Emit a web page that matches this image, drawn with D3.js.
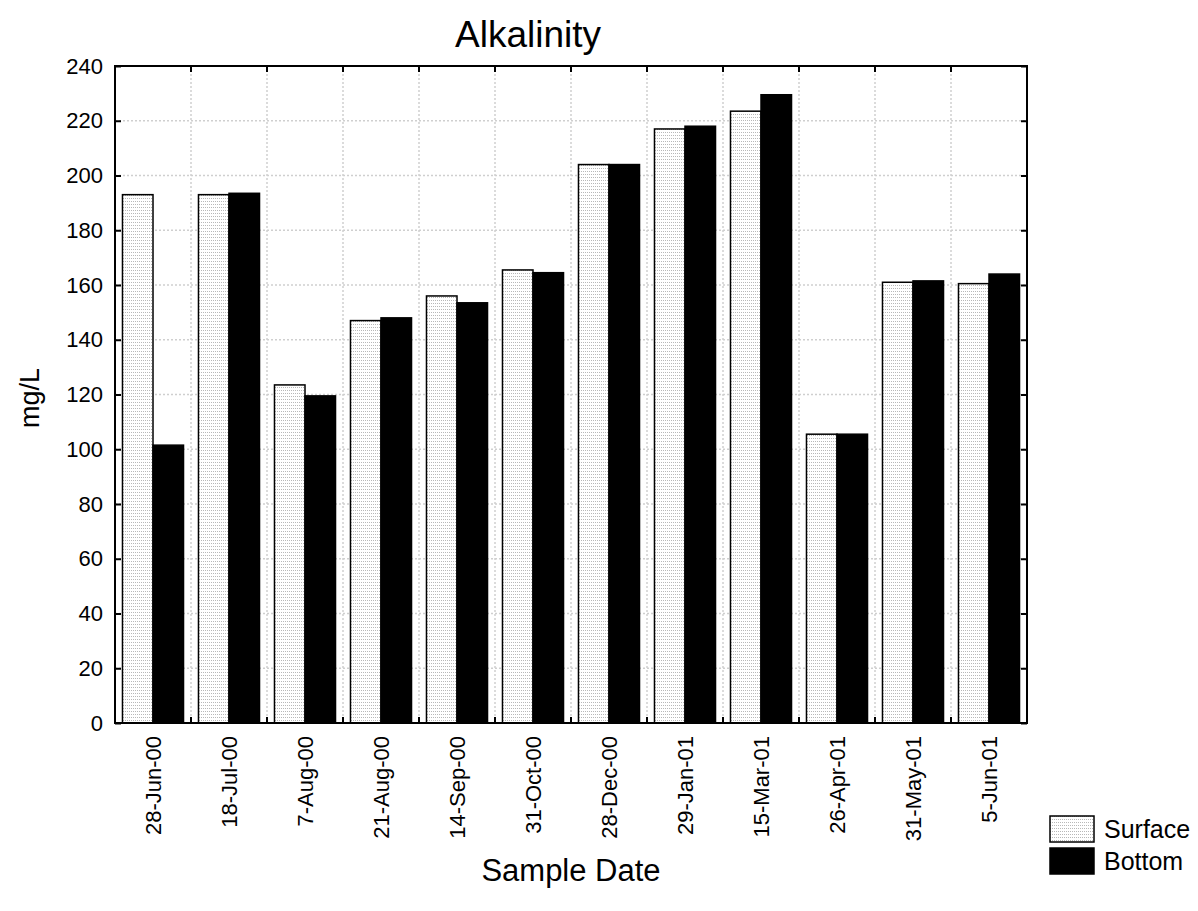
<!DOCTYPE html>
<html>
<head>
<meta charset="utf-8">
<script src="https://cdn.jsdelivr.net/npm/d3@7/dist/d3.min.js"></script>
<style>
  html, body { margin: 0; padding: 0; background: #fff; }
  svg { display: block; font-family: "Liberation Sans", Arial, sans-serif; }
</style>
</head>
<body>
<svg id="chart" width="1198" height="911"></svg>
<script>
// Alkalinity by sample date, surface vs. bottom (mg/L)
const dates = ["28-Jun-00", "18-Jul-00", "7-Aug-00", "21-Aug-00", "14-Sep-00", "31-Oct-00",
               "28-Dec-00", "29-Jan-01", "15-Mar-01", "26-Apr-01", "31-May-01", "5-Jun-01"];
const surface = [193, 193, 123.5, 147, 156, 165.5, 204, 217, 223.5, 105.5, 161, 160.5];
const bottom  = [101.5, 193.5, 119.5, 148, 153.5, 164.5, 204, 218, 229.5, 105.5, 161.5, 164];
const seriesNames = ["Surface", "Bottom"];
const yTicks = [0, 20, 40, 60, 80, 100, 120, 140, 160, 180, 200, 220, 240];

const svg = d3.select("#chart");
const plot = { left: 115, right: 1027, top: 66, bottom: 723 };

// Light dotted fill used for the surface bars
const defs = svg.append("defs");
const pat = defs.append("pattern")
  .attr("id", "dots").attr("patternUnits", "userSpaceOnUse")
  .attr("width", 2).attr("height", 3);
pat.append("rect").attr("width", 2).attr("height", 3).attr("fill", "#fff");
pat.append("rect").attr("width", 1).attr("height", 1).attr("fill", "#b8b8b8");

const x0 = d3.scaleBand().domain(dates).range([plot.left, plot.right]).paddingInner(0).paddingOuter(0);
const x1 = d3.scaleBand().domain(seriesNames).range([0, x0.bandwidth()]).paddingInner(0).paddingOuter(0.245);
const y = d3.scaleLinear().domain([0, 240]).range([plot.bottom, plot.top]);

const fills = { Surface: "url(#dots)", Bottom: "#000" };
const values = { Surface: surface, Bottom: bottom };

// Grid lines
const grid = svg.append("g").attr("stroke", "#cfcfcf").attr("stroke-width", 1.5)
  .attr("stroke-dasharray", "2,2");
grid.selectAll("line.h").data(yTicks.slice(1, -1)).join("line")
  .attr("x1", plot.left).attr("x2", plot.right)
  .attr("y1", d => y(d)).attr("y2", d => y(d));
grid.selectAll("line.v").data(dates.slice(1)).join("line")
  .attr("x1", d => x0(d)).attr("x2", d => x0(d))
  .attr("y1", plot.top).attr("y2", plot.bottom);

// Bars
const groups = svg.append("g").selectAll("g").data(dates).join("g")
  .attr("transform", d => `translate(${x0(d)},0)`);
groups.selectAll("rect").data((d, i) => seriesNames.map(s => ({ s, v: values[s][i] }))).join("rect")
  .attr("x", d => x1(d.s))
  .attr("width", x1.bandwidth())
  .attr("y", d => y(d.v))
  .attr("height", d => y(0) - y(d.v))
  .attr("fill", d => fills[d.s])
  .attr("stroke", "#000")
  .attr("stroke-width", 1.5);

// Frame
svg.append("rect")
  .attr("x", plot.left).attr("y", plot.top)
  .attr("width", plot.right - plot.left).attr("height", plot.bottom - plot.top)
  .attr("fill", "none").attr("stroke", "#000").attr("stroke-width", 2);

// Y axis (left, inward ticks) and mirrored ticks on the right
const yAxisL = d3.axisLeft(y).tickValues(yTicks).tickSize(-6).tickPadding(12).tickFormat(d3.format("d"));
const gL = svg.append("g").attr("transform", `translate(${plot.left},0)`).call(yAxisL);
gL.select(".domain").remove();
gL.selectAll(".tick line").attr("stroke", "#000").attr("stroke-width", 2);
gL.selectAll(".tick text").attr("font-size", 22).attr("fill", "#000")
  .attr("font-family", "Liberation Sans, Arial, sans-serif");

const yAxisR = d3.axisRight(y).tickValues(yTicks).tickSize(-6).tickFormat("");
const gR = svg.append("g").attr("transform", `translate(${plot.right},0)`).call(yAxisR);
gR.select(".domain").remove();
gR.selectAll(".tick line").attr("stroke", "#000").attr("stroke-width", 2);

// X ticks at band boundaries, top and bottom
const bounds = dates.slice(1).map(d => x0(d));
svg.append("g").selectAll("line").data(bounds).join("line")
  .attr("x1", d => d).attr("x2", d => d)
  .attr("y1", plot.bottom).attr("y2", plot.bottom - 6)
  .attr("stroke", "#000").attr("stroke-width", 2);
svg.append("g").selectAll("line").data(bounds).join("line")
  .attr("x1", d => d).attr("x2", d => d)
  .attr("y1", plot.top).attr("y2", plot.top + 6)
  .attr("stroke", "#000").attr("stroke-width", 2);

// X category labels, rotated
svg.append("g").selectAll("text").data(dates).join("text")
  .attr("transform", d => `translate(${x0(d) + x0.bandwidth() / 2 + 8},${plot.bottom + 13}) rotate(-90)`)
  .attr("text-anchor", "end")
  .attr("font-size", 22)
  .text(d => d);

// Titles
svg.append("text").attr("x", 528).attr("y", 47).attr("text-anchor", "middle")
  .attr("font-size", 37).text("Alkalinity");
svg.append("text").attr("x", 571).attr("y", 881).attr("text-anchor", "middle")
  .attr("font-size", 31).text("Sample Date");
svg.append("text").attr("transform", "translate(39,398) rotate(-90)").attr("text-anchor", "middle")
  .attr("font-size", 27).text("mg/L");

// Legend
const legend = svg.append("g").attr("transform", "translate(1050,816)");
const li = legend.selectAll("g").data(seriesNames).join("g")
  .attr("transform", (d, i) => `translate(0,${i * 32})`);
li.append("rect").attr("width", 44).attr("height", 26)
  .attr("fill", d => fills[d]).attr("stroke", "#000").attr("stroke-width", 1.5);
li.append("text").attr("x", 54).attr("y", 22).attr("font-size", 25).text(d => d);
</script>
</body>
</html>
